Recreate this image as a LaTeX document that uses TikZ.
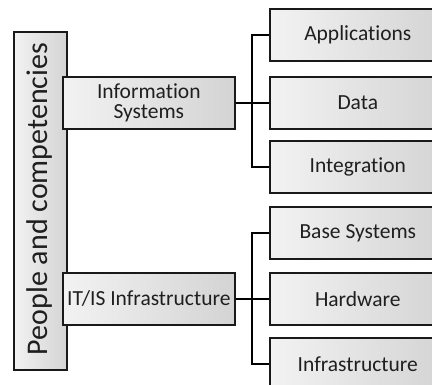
\documentclass[tikz,border=0pt]{standalone}
\usepackage{fontspec}
\setmainfont[Ligatures={NoCommon}]{Carlito}
\usetikzlibrary{shadows}
\begin{document}
\begin{tikzpicture}[x=1pt,y=1pt,
  box/.style={draw=black!90, line width=1.6pt, inner sep=0pt,
    left color=black!5, right color=black!17,
    drop shadow={opacity=0.25, shadow xshift=1.2pt, shadow yshift=-1.2pt},
    text=black!88, font=\fontsize{21.5}{23}\selectfont, align=center},
  leaf/.style={box, minimum width=176pt, minimum height=52pt, anchor=north west},
  mid/.style={box, minimum width=172pt, minimum height=52pt, anchor=north west},
  link/.style={draw=black, line width=1.6pt}]
\useasboundingbox (0,0) rectangle (432,-385);
\clip (0,0) rectangle (432,-385);

% people column
\node[box, minimum width=53pt, minimum height=338pt, anchor=north west] (people) at (13,-31) {};
\node[rotate=90, text=black!88, font=\fontsize{30}{32}\selectfont] (peoplelbl) at (39.5,-199) {People and competencies};

% second level
\node[mid] (is) at (62,-76) {Information\\[-3pt]Systems};
\node[mid] (infra) at (62,-272) {IT/IS Infrastructure};

% leaves
\node[leaf] (apps) at (269,-8) {Applications};
\node[leaf] (data) at (269,-76) {Data};
\node[leaf] (integ) at (269,-140) {Integration};
\node[leaf] (base) at (269,-206) {Base Systems};
\node[leaf] (hw) at (269,-272) {Hardware};
\node[leaf] (infs) at (269,-337) {Infrastructure};

% connectors
\draw[link] (is.east) -- (data.west);
\draw[link] (apps.west) -- ++(-17,0) |- (integ.west);
\draw[link] (infra.east) -- (hw.west);
\draw[link] (base.west) -- ++(-17,0) |- (infs.west);
\end{tikzpicture}
\end{document}
